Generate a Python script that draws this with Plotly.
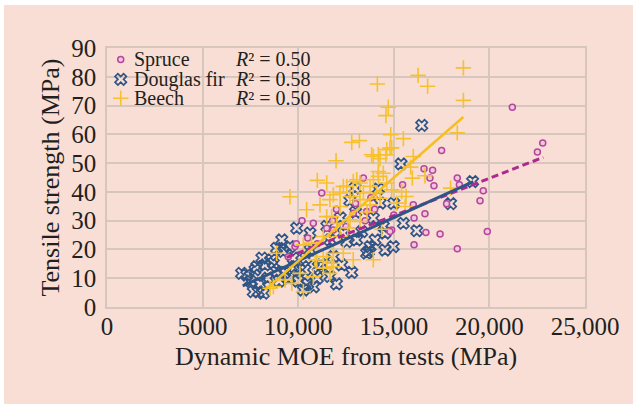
import plotly.graph_objects as go

# ---- measured data: dynamic MOE (MPa) vs tensile strength (MPa) ----
beech_moe = [14140, 16270, 18640, 16770, 18640, 18320, 15500, 16020, 15880, 15970,
             16630, 15410, 15640, 15590, 17970, 14710, 14590, 14840, 12800, 13200,
             11980, 13840, 14190, 14590, 14800, 14190, 14190, 11000, 11840, 12880,
             13230, 10440, 11140, 8870, 10270, 8530, 9660, 10790, 11660, 10970,
             11490, 11840, 10700, 11490, 12360, 14630, 11660, 12190, 12710, 13410,
             13760, 11490, 12010, 12710, 13230, 11310, 12190, 11310, 11840, 12360,
             12880, 14890, 14280, 15150, 13760, 12540, 12190, 12880, 13230, 13930,
             14450, 14100, 14630, 14890, 13930, 14280, 13060, 10270, 10880, 10090,
             11310, 11750, 9310, 8700, 9570, 11750, 14370, 13930, 12600, 13600]
beech_ts = [77.5, 80.5, 83.1, 76.7, 71.8, 60.5, 58.5, 52.3, 48.6, 44.8,
            45.6, 40.1, 38.4, 34.9, 41.3, 69.4, 66.5, 59.9, 57.2, 57.8,
            50.8, 52.9, 52.9, 52.9, 55.3, 47.1, 45.4, 44.0, 39.0, 43.6,
            43.1, 33.8, 35.5, 18.7, 5.3, 6.5, 8.2, 10.6, 11.7, 16.4,
            15.8, 18.7, 22.2, 43.1, 41.9, 43.1, 37.3, 34.9, 38.4, 39.6,
            35.5, 31.4, 29.1, 30.3, 29.7, 24.5, 24.5, 17.5, 14.0, 18.7,
            16.4, 40.7, 37.8, 36.1, 41.9, 41.9, 39.6, 38.4, 37.3, 44.2,
            46.5, 39.6, 54.7, 55.3, 52.3, 51.5, 44.2, 21.6, 16.4, 11.7,
            13.5, 15.2, 9.4, 7.1, 38.3, 31.4, 27.0, 16.4, 27.5, 33.0]

douglas_moe = [16460, 15380, 15500, 16200, 17970, 19120, 14190, 12970, 13930, 14450,
               13670, 14540, 11660, 12540, 13060, 13320, 11840, 11230, 12270, 14280,
               13760, 9920, 10620, 11660, 12360, 14020, 14540, 14970, 13580, 10270,
               8870, 7830, 7040, 7910, 8180, 8610, 9220, 9140, 9570, 10360,
               11050, 8870, 8260, 7740, 7310, 7650, 10090, 9740, 10620, 8700,
               9500, 9000, 8400, 8000, 7500, 10000, 10500, 11000, 9800, 12800,
               13000, 12200, 11500, 12700, 15000, 10800, 12000, 9300, 8100, 10400]
douglas_ts = [63.1, 49.7, 29.1, 26.5, 35.9, 43.6, 41.0, 41.3, 30.9, 28.0,
              19.3, 19.8, 10.6, 22.7, 23.3, 26.2, 17.5, 14.6, 14.6, 36.1,
              21.0, 27.4, 25.7, 23.3, 25.7, 23.3, 25.7, 21.0, 18.7, 5.9,
              12.3, 14.0, 11.7, 5.3, 4.8, 16.4, 19.3, 23.3, 21.0, 12.9,
              14.0, 20.4, 14.6, 12.9, 11.1, 5.3, 12.9, 17.0, 19.8, 15.2,
              10.0, 9.0, 10.0, 8.0, 9.0, 9.0, 8.0, 10.0, 14.0, 12.0,
              33.0, 31.0, 28.0, 37.0, 36.0, 7.0, 8.0, 12.0, 17.0, 17.0]

spruce_moe = [21200, 22790, 22510, 17500, 16580, 17030, 16890, 17100, 18320, 18430,
              19680, 19510, 16060, 16630, 16680, 17420, 19890, 16060, 18320, 15460,
              16020, 17760, 14890, 13580, 11230, 11840, 12880, 13410, 14800, 10790,
              11490, 9830, 9480, 9900, 10500, 11000, 11800, 12500, 13000, 13500,
              12000, 10200, 14000, 15000, 13800]
spruce_ts = [69.4, 57.0, 53.9, 54.4, 48.0, 47.5, 44.8, 42.1, 44.8, 42.5,
             40.4, 36.9, 30.9, 32.4, 25.9, 25.4, 26.2, 21.6, 20.2, 42.5,
             35.5, 35.9, 26.8, 33.2, 39.6, 26.8, 32.6, 44.8, 26.2, 29.1,
             27.4, 21.0, 17.5, 22.0, 24.0, 22.0, 30.0, 28.0, 36.0, 30.0,
             34.0, 30.0, 34.0, 32.0, 38.0]

# ---- linear regression lines: slope, intercept, x extent ----
species = ["Spruce", "Douglas fir", "Beech"]
r_squared = [0.50, 0.58, 0.50]
fit_slope = [0.00259, 0.003009, 0.005795]
fit_intercept = [-7.1, -14.05, -41.99]
fit_x_range = [[9400, 22820], [7096, 19160], [8264, 18636]]

x_ticks = [0, 5000, 10000, 15000, 20000, 25000]
x_tick_text = ["0", "5000", "10,000", "15,000", "20,000", "25,000"]
y_ticks = [0, 10, 20, 30, 40, 50, 60, 70, 80, 90]

# ---- styling ----
PINK_BG = "#f9ded5"
GRID = "#d6c6be"
TEXT = "#231f20"
FONT = "Liberation Serif"
C_SPRUCE = "#b4479c"
C_DOUG = "#2f5587"
C_BEECH = "#f6c12e"

marker_styles = {
    "Spruce": dict(symbol="circle", size=6, color="#f1c7de",
                   line=dict(color=C_SPRUCE, width=1.5)),
    "Douglas fir": dict(symbol="x-open", size=10, color=C_DOUG,
                        line=dict(color=C_DOUG, width=1.7)),
    "Beech": dict(symbol="cross-thin", size=11,
                  line=dict(color=C_BEECH, width=1.6)),
}
line_styles = {
    "Spruce": dict(color="#b0288f", width=3, dash="7px,4px"),
    "Douglas fir": dict(color=C_DOUG, width=3),
    "Beech": dict(color="#f5be22", width=2.5),
}

fig = go.Figure()

# scatter points
point_sets = {
    "Douglas fir": (douglas_moe, douglas_ts),
    "Spruce": (spruce_moe, spruce_ts),
    "Beech": (beech_moe, beech_ts),
}
for name, (xs, ys) in point_sets.items():
    fig.add_trace(go.Scatter(x=xs, y=ys, mode="markers", name=name,
                             marker=marker_styles[name], showlegend=False,
                             hoverinfo="x+y"))

# regression lines
for i, name in enumerate(species):
    x0, x1 = fit_x_range[i]
    xs = [x0, x1]
    ys = [fit_slope[i] * v + fit_intercept[i] for v in xs]
    fig.add_trace(go.Scatter(x=xs, y=ys, mode="lines", name=name + " fit",
                             line=line_styles[name], showlegend=False,
                             hoverinfo="skip"))

# legend key symbols on an overlay axis spanning the plot area (0..1)
key_x = 0.0287
key_rows = [0.956, 0.879, 0.806]
for name, yk in zip(species, key_rows):
    fig.add_trace(go.Scatter(x=[key_x], y=[yk], mode="markers",
                             marker=marker_styles[name], showlegend=False,
                             xaxis="x2", yaxis="y2", hoverinfo="skip"))

annotations = []
for name, yk, r2 in zip(species, key_rows, r_squared):
    annotations.append(dict(x=0.0517, y=yk, xref="paper", yref="paper",
                            text=name, showarrow=False, xanchor="left",
                            yanchor="middle", font=dict(family=FONT, size=20, color=TEXT)))
    annotations.append(dict(x=0.2636, y=yk, xref="paper", yref="paper",
                            text=f"<i>R</i>\u00b2 = {r2:.2f}", showarrow=False,
                            xanchor="left", yanchor="middle",
                            font=dict(family=FONT, size=20, color=TEXT)))

# axis titles
annotations.append(dict(x=0.5, y=0, xref="paper", yref="paper", yshift=-49,
                        text="Dynamic MOE from tests (MPa)", showarrow=False,
                        xanchor="center", yanchor="middle",
                        font=dict(family=FONT, size=26, color=TEXT)))
annotations.append(dict(x=0, y=0.5, xref="paper", yref="paper", xshift=-57,
                        text="Tensile strength (MPa)", showarrow=False, textangle=-90,
                        xanchor="center", yanchor="middle",
                        font=dict(family=FONT, size=26, color=TEXT)))

shapes = [
    # pink panel behind the whole figure
    dict(type="rect", xref="paper", yref="paper", x0=-0.2155, x1=1.2, y0=-0.5, y1=1.166,
         fillcolor=PINK_BG, line=dict(width=0), layer="below"),
    # legend box hides the grid behind it
    dict(type="rect", xref="paper", yref="paper", x0=0, x1=0.4456, y0=0.772, y1=1,
         fillcolor=PINK_BG, line=dict(width=0), layer="between"),
]

axis_common = dict(showgrid=True, gridcolor=GRID, gridwidth=1.5, zeroline=False,
                   showline=True, linecolor=GRID, linewidth=1.5, mirror=True,
                   ticks="", tickfont=dict(family=FONT, size=25, color=TEXT))

fig.update_layout(
    width=633, height=404,
    margin=dict(l=107, r=48, t=48, b=97, autoexpand=False),
    paper_bgcolor="white",
    plot_bgcolor=PINK_BG,
    showlegend=False,
    xaxis=dict(range=[0, 25000], tickvals=x_ticks, ticktext=x_tick_text,
               ticklabelstandoff=-4, **axis_common),
    yaxis=dict(range=[0, 90], tickvals=y_ticks, ticklabelstandoff=4, **axis_common),
    xaxis2=dict(range=[0, 1], overlaying="x", visible=False, fixedrange=True),
    yaxis2=dict(range=[0, 1], overlaying="y", visible=False, fixedrange=True),
    annotations=annotations,
    shapes=shapes,
)

fig.write_html("out.html")
